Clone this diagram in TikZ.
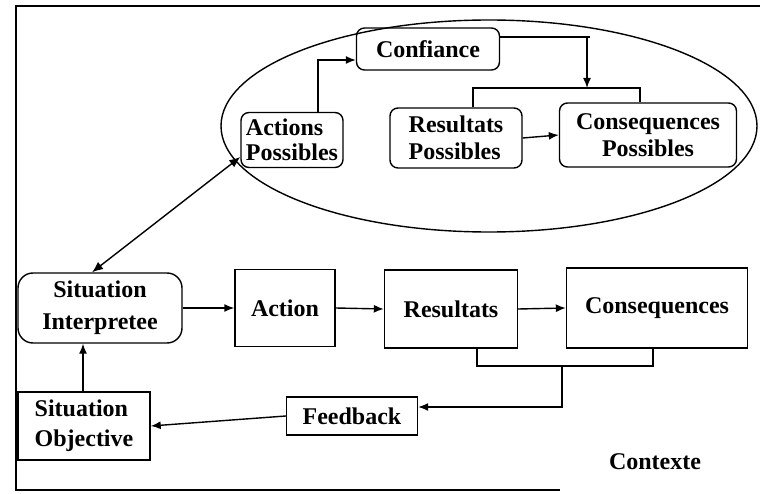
\documentclass[tikz,border=0pt]{standalone}
\usepackage{fontspec}
\setmainfont{Liberation Serif}
\usetikzlibrary{arrows.meta}
\begin{document}
\begin{tikzpicture}[x=1pt,y=-1pt,
  every node/.style={font=\fontsize{24}{27}\selectfont\bfseries, inner sep=2pt},
  rbox/.style={draw, line width=1.4pt, rounded corners=8pt},
  sbox/.style={draw, line width=1.4pt},
  conn/.style={line width=1.4pt},
  arr/.style={conn, -{Latex[length=10pt,width=8pt]}},
  darr/.style={conn, {Latex[length=11pt,width=9pt]}-{Latex[length=11pt,width=9pt]}}]
\useasboundingbox (0,0) rectangle (760,494);
% frame
\draw[line width=1.5pt] (760,6) -- (16,6) -- (16,490) -- (560,490);
% ellipse
\draw[line width=1.4pt] (489,126) ellipse [x radius=268, y radius=106];
% top nodes
\node[rbox, minimum width=143pt, minimum height=42pt] (conf) at (428,49) {Confiance};
\node[rbox, minimum width=102pt, minimum height=55pt, align=left, font=\fontsize{24}{25}\selectfont\bfseries] (actp) at (292,140) {Actions\\Possibles};
\node[rbox, minimum width=132pt, minimum height=60pt, align=left] (resp) at (456,138) {Resultats\\Possibles};
\node[rbox, minimum width=177pt, minimum height=64pt, align=center] (conp) at (648,135) {Consequences\\Possibles};
% bottom nodes
\node[rbox, rounded corners=15pt, minimum width=164pt, minimum height=70pt, align=center, font=\fontsize{24}{32}\selectfont\bfseries] (si) at (100,308) {Situation\\Interpretee};
\node[sbox, minimum width=100pt, minimum height=77pt] (act) at (285,308) {Action};
\node[sbox, minimum width=133pt, minimum height=78pt] (res) at (451,309) {Resultats};
\node[sbox, minimum width=181pt, minimum height=80pt] (con) at (657,308) {Consequences};
\node[sbox, minimum width=132pt, minimum height=68pt, align=left, font=\fontsize{24}{30}\selectfont\bfseries] (so) at (84,426) {Situation\\Objective};
\node[sbox, minimum width=131pt, minimum height=38pt] (fb) at (352,416) {Feedback};
\node (ctx) at (655,462) {Contexte};
% top connectors
\draw[arr] ([xshift=26pt]actp.north) |- ([yshift=-11pt]conf.west);
\coordinate (brk) at (587,88);
\draw[conn] ([yshift=12pt]conf.east) -- ([yshift=12pt]conf.east -| 590,0);
\draw[arr] ([yshift=12pt]conf.east -| brk) -- (brk);
\draw[conn] (resp.north -| 473,0) |- (640,88) -- (conp.north -| 640,0);
\draw[arr] (resp.east) -- (conp.west);
\draw[darr] ([xshift=-8pt]si.north) -- ([yshift=-17pt]actp.west);
% bottom connectors
\draw[arr] (si.east) -- (act.west);
\draw[arr] (act.east) -- (res.west);
\draw[arr] (res.east) -- (con.west);
\coordinate (fbk) at (562,366);
\draw[conn] (res.south -| 477,0) |- (653,366) -- (con.south -| 653,0);
\draw[arr] (fbk) |- ([yshift=9pt]fb.east);
\draw[arr] (fb.west) -- (so.east);
\draw[arr] (so.north -| 83,0) -- (si.south -| 83,0);
\end{tikzpicture}
\end{document}
